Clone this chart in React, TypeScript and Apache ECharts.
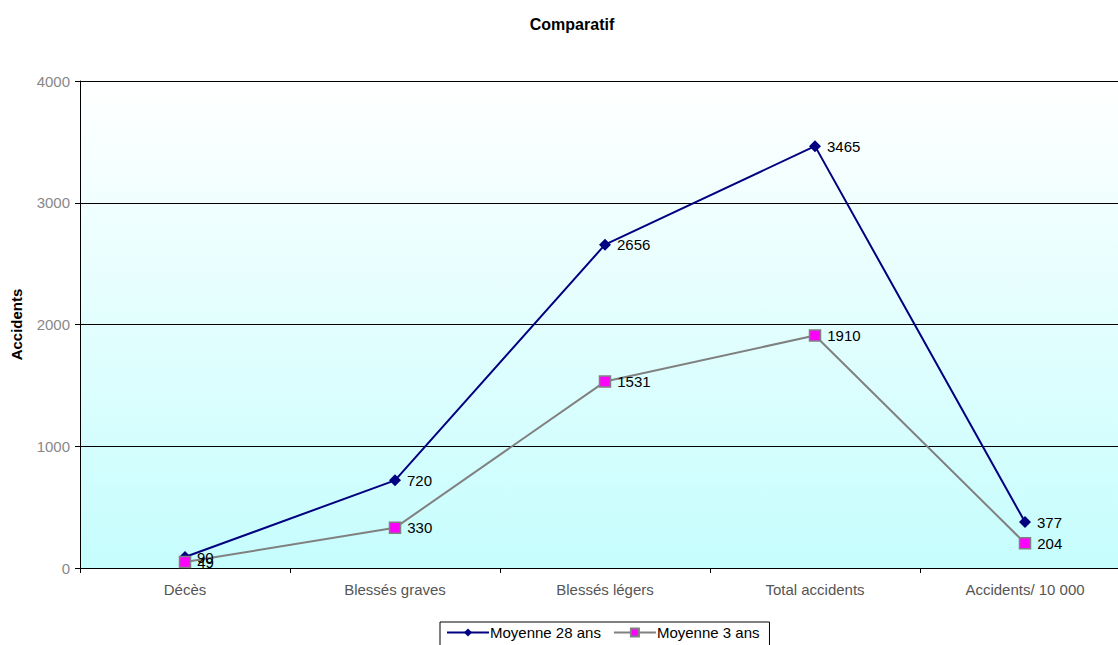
import React, { useEffect, useRef } from "react";
import * as echarts from "echarts";

const categories = ["Décès", "Blessés graves", "Blessés légers", "Total accidents", "Accidents/ 10 000"];
const moyenne28 = [90, 720, 2656, 3465, 377];
const moyenne3 = [49, 330, 1531, 1910, 204];
const yTicks = { min: 0, max: 4000, interval: 1000 };

export default function App() {
  const ref = useRef<HTMLDivElement>(null);
  useEffect(() => {
    const chart = echarts.init(ref.current!, undefined, { renderer: "svg" });
    chart.setOption({
      animation: false,
      textStyle: { fontFamily: "Liberation Sans, Arial, sans-serif" },
      title: {
        text: "Comparatif",
        left: 567,
        textAlign: "center",
        top: 11,
        textStyle: { fontSize: 16, fontWeight: "bold", color: "#000" },
      },
      grid: {
        left: 80,
        right: 0,
        top: 81,
        bottom: 77,
        show: true,
        borderWidth: 0,
        backgroundColor: new echarts.graphic.LinearGradient(0, 0, 0, 1, [
          { offset: 0, color: "#ffffff" },
          { offset: 1, color: "#c6fdfd" },
        ]),
      },
      legend: {
        left: 440,
        top: 622,
        itemWidth: 42,
        itemHeight: 10,
        itemGap: 12,
        padding: [3, 10, 6, 6],
        borderColor: "#000",
        borderWidth: 1,
        textStyle: { fontSize: 15, color: "#000", padding: [0, 0, 0, -4] },
        data: ["Moyenne 28 ans", "Moyenne 3 ans"],
      },
      xAxis: {
        type: "category",
        data: categories,
        boundaryGap: true,
        axisLine: { lineStyle: { color: "#000", width: 1 } },
        axisTick: { show: true, length: 5, lineStyle: { color: "#000" } },
        axisLabel: { color: "#555", fontSize: 15, margin: 14 },
      },
      yAxis: {
        type: "value",
        min: yTicks.min,
        max: yTicks.max,
        interval: yTicks.interval,
        name: "Accidents",
        nameLocation: "middle",
        nameGap: 56,
        nameRotate: 90,
        nameTextStyle: { fontSize: 15, fontWeight: "bold", color: "#000" },
        axisLine: { show: true, lineStyle: { color: "#000" } },
        axisTick: { show: true, length: 5, lineStyle: { color: "#000" } },
        axisLabel: { color: "#888", fontSize: 15, margin: 10, formatter: (v: number) => String(v) },
        splitLine: { show: true, lineStyle: { color: "#000", width: 1 } },
      },
      series: [
        {
          name: "Moyenne 28 ans",
          type: "line",
          data: moyenne28,
          symbol: "diamond",
          symbolSize: 12,
          lineStyle: { color: "#000080", width: 2 },
          itemStyle: { color: "#000080" },
          label: { show: true, position: "right", distance: 6, color: "#000", fontSize: 15 },
        },
        {
          name: "Moyenne 3 ans",
          type: "line",
          data: moyenne3,
          symbol: "rect",
          symbolSize: 11,
          lineStyle: { color: "#808080", width: 2 },
          itemStyle: { color: "#ff00ff", borderColor: "#808080", borderWidth: 1.5 },
          label: { show: true, position: "right", distance: 6, color: "#000", fontSize: 15 },
        },
      ],
    });
    return () => chart.dispose();
  }, []);
  return (
    <div
      ref={ref}
      style={{ position: "fixed", left: 0, top: 0, width: 1130, height: 645, background: "#fff" }}
    />
  );
}
